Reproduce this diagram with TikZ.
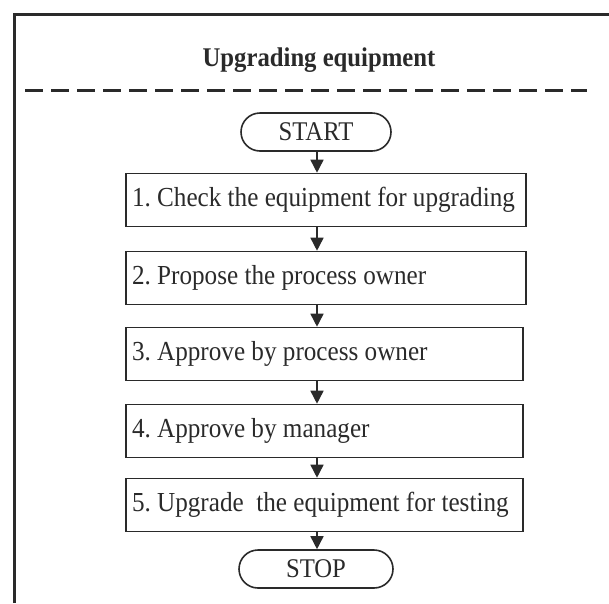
\documentclass[tikz,border=0pt]{standalone}
\usepackage{fontspec}
\setmainfont{Liberation Serif}[FakeStretch=0.915]
\usetikzlibrary{arrows.meta}
\definecolor{ink}{HTML}{2A2A2A}
\newcommand{\boxtext}[2]{\makebox[#1][l]{#2}}
\tikzset{
  stepbox/.style={draw=ink, line width=1.6pt, rectangle, minimum height=53pt, inner xsep=6pt,
    font=\fontsize{27.5}{31}\selectfont, text=ink},
  term/.style={draw=ink, line width=1.6pt, rectangle, rounded corners=19pt, minimum height=38pt,
    minimum width=#1, inner sep=0pt, font=\fontsize{27}{31}\selectfont, text=ink},
  flow/.style={draw=ink, line width=1.6pt, -{Triangle[width=13pt,length=13pt]}}
}
\begin{document}
\frenchspacing
\begin{tikzpicture}[x=1pt,y=-1pt]
\useasboundingbox (0,0) rectangle (609,603);
% frame
\draw[ink, line width=3pt] (14,603) -- (14,14) -- (609,14);
\draw[ink, line width=3pt, dash pattern=on 18pt off 8pt] (25,90) -- (587,90);
\node[font=\bfseries\fontsize{27}{31}\selectfont, text=ink] (title) at (319,60) {Upgrading equipment};
% nodes
\node[term=150pt] (start) at (316,132) {START};
\node[stepbox] (s1) at (326,200) {\boxtext{388pt}{1. Check the equipment for upgrading}};
\node[stepbox] (s2) at (326,278) {\boxtext{388pt}{2. Propose the process owner}};
\node[stepbox] (s3) at (324.5,354) {\boxtext{385pt}{3. Approve by process owner}};
\node[stepbox] (s4) at (324.5,431) {\boxtext{385pt}{4. Approve by manager}};
\node[stepbox] (s5) at (324.5,505) {\boxtext{385pt}{5. Upgrade\ \ the equipment for testing}};
\node[term=154pt] (stop) at (316,569) {STOP};
% connectors
\coordinate (ax) at (317,0);
\draw[flow] (ax |- start.south) -- (ax |- s1.north);
\draw[flow] (ax |- s1.south) -- (ax |- s2.north);
\draw[flow] (ax |- s2.south) -- (ax |- s3.north);
\draw[flow] (ax |- s3.south) -- (ax |- s4.north);
\draw[flow] (ax |- s4.south) -- (ax |- s5.north);
\draw[flow] (ax |- s5.south) -- (ax |- stop.north);
\end{tikzpicture}
\end{document}
